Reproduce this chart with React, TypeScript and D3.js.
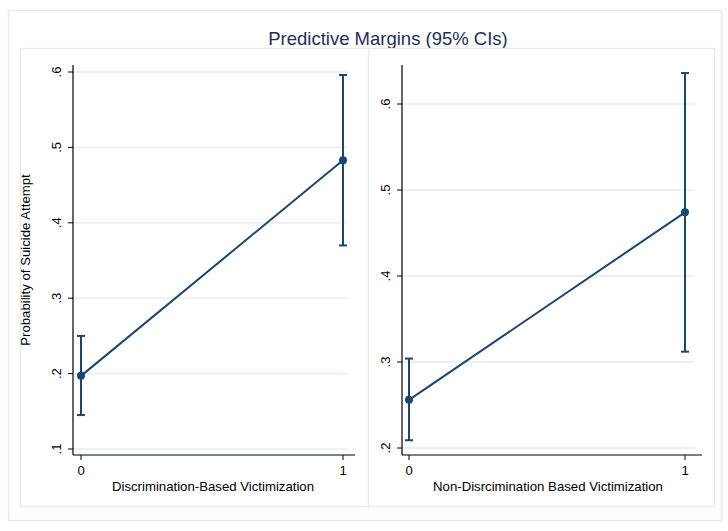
import React, {useEffect, useRef} from 'react';
import * as d3 from 'd3';

const title = 'Predictive Margins (95% CIs)';
const yTitle = 'Probability of Suicide Attempt';

const leftX = [0, 1];
const leftEst = [0.197, 0.483];
const leftLo = [0.145, 0.37];
const leftHi = [0.25, 0.596];
const leftTicks = [0.1, 0.2, 0.3, 0.4, 0.5, 0.6];
const leftLabel = 'Discrimination-Based Victimization';

const rightX = [0, 1];
const rightEst = [0.256, 0.474];
const rightLo = [0.209, 0.312];
const rightHi = [0.304, 0.636];
const rightTicks = [0.2, 0.3, 0.4, 0.5, 0.6];
const rightLabel = 'Non-Disrcimination Based Victimization';

const navy = '#1a476f';
const fmt = (v: number) => d3.format('.1f')(v).replace(/^0/, '');

export default function App() {
  const ref = useRef<SVGSVGElement>(null);

  useEffect(() => {
    const svg = d3.select(ref.current);
    svg.selectAll('*').remove();
    svg.style('font-family', '"Liberation Sans", Arial, sans-serif');

    svg.append('rect').attr('width', 728).attr('height', 531).attr('fill', '#fff');
    svg.append('rect')
        .attr('x', 8.5).attr('y', 10.5).attr('width', 713).attr('height', 510)
        .attr('fill', '#fff').attr('stroke', '#e2ecef').attr('stroke-width', 1.5);

    svg.append('text')
        .attr('x', 388).attr('y', 45)
        .attr('text-anchor', 'middle')
        .attr('fill', '#1e2f5a')
        .style('font-size', '18.5px')
        .text(title);

    const panels = [
      {x0: 20, x1: 368, axisX: 73, xr: [81, 343], xEnd: 355, dom: [0.1, 0.6], yr: [449, 72], labX: 213,
        xs: leftX, est: leftEst, lo: leftLo, hi: leftHi, ticks: leftTicks, label: leftLabel, ylab: true},
      {x0: 368, x1: 714, axisX: 402, xr: [409, 685], xEnd: 702, dom: [0.2, 0.6], yr: [448, 104], labX: 548,
        xs: rightX, est: rightEst, lo: rightLo, hi: rightHi, ticks: rightTicks, label: rightLabel, ylab: false},
    ];

    const top = 65, bottom = 455;

    panels.forEach(p => {
      svg.append('rect')
          .attr('x', p.x0 + 0.5).attr('y', 48.5).attr('width', p.x1 - p.x0).attr('height', 458)
          .attr('fill', '#fff').attr('stroke', '#e2ecef').attr('stroke-width', 1.2);

      const x = d3.scaleLinear().domain([0, 1]).range(p.xr);
      const y = d3.scaleLinear().domain(p.dom).range(p.yr);

      const g = svg.append('g');

      // grid
      g.selectAll('.grid').data(p.ticks).enter().append('line')
          .attr('x1', p.axisX).attr('x2', p.xEnd - 7)
          .attr('y1', d => y(d)).attr('y2', d => y(d))
          .attr('stroke', '#e2edf1').attr('stroke-width', 1.3);

      // y axis
      g.append('line')
          .attr('x1', p.axisX).attr('x2', p.axisX).attr('y1', top).attr('y2', bottom)
          .attr('stroke', '#000').attr('stroke-width', 1.2);
      g.selectAll('.yt').data(p.ticks).enter().append('line')
          .attr('x1', p.axisX - 5).attr('x2', p.axisX)
          .attr('y1', d => y(d)).attr('y2', d => y(d))
          .attr('stroke', '#000').attr('stroke-width', 1);
      g.selectAll('.yl').data(p.ticks).enter().append('text')
          .attr('transform', d => `translate(${p.axisX - 12},${y(d)}) rotate(-90)`)
          .attr('text-anchor', 'middle')
          .style('font-size', '13px')
          .attr('fill', '#000')
          .text(d => fmt(d));

      // x axis
      g.append('line')
          .attr('x1', p.axisX).attr('x2', p.xEnd).attr('y1', bottom).attr('y2', bottom)
          .attr('stroke', '#000').attr('stroke-width', 1.2);
      g.selectAll('.xt').data([0, 1]).enter().append('line')
          .attr('x1', d => x(d)).attr('x2', d => x(d))
          .attr('y1', bottom).attr('y2', bottom + 5)
          .attr('stroke', '#000').attr('stroke-width', 1);
      g.selectAll('.xl').data([0, 1]).enter().append('text')
          .attr('x', d => x(d)).attr('y', bottom + 20)
          .attr('text-anchor', 'middle')
          .style('font-size', '13px')
          .text(d => d);

      g.append('text')
          .attr('x', p.labX).attr('y', 491)
          .attr('text-anchor', 'middle')
          .style('font-size', '13.2px')
          .text(p.label);

      if (p.ylab) {
        g.append('text')
            .attr('transform', `translate(30,${(top + bottom) / 2}) rotate(-90)`)
            .attr('text-anchor', 'middle')
            .style('font-size', '13.2px')
            .text(yTitle);
      }

      // CI bars
      p.xs.forEach((xv, i) => {
        g.append('line')
            .attr('x1', x(xv)).attr('x2', x(xv))
            .attr('y1', y(p.lo[i])).attr('y2', y(p.hi[i]))
            .attr('stroke', navy).attr('stroke-width', 2);
        [p.lo[i], p.hi[i]].forEach(v => {
          g.append('line')
              .attr('x1', x(xv) - 4).attr('x2', x(xv) + 4)
              .attr('y1', y(v)).attr('y2', y(v))
              .attr('stroke', navy).attr('stroke-width', 2);
        });
      });

      const line = d3.line<number>().x((d, i) => x(p.xs[i])).y(d => y(d));
      g.append('path')
          .attr('d', line(p.est)!)
          .attr('fill', 'none')
          .attr('stroke', navy)
          .attr('stroke-width', 2);

      g.selectAll('.pt').data(p.est).enter().append('circle')
          .attr('cx', (d, i) => x(p.xs[i])).attr('cy', d => y(d))
          .attr('r', 4)
          .attr('fill', navy);
    });
  }, []);

  return (
    <svg ref={ref} width={728} height={531}
         style={{position: 'absolute', left: 0, top: 0}}></svg>
  );
}
